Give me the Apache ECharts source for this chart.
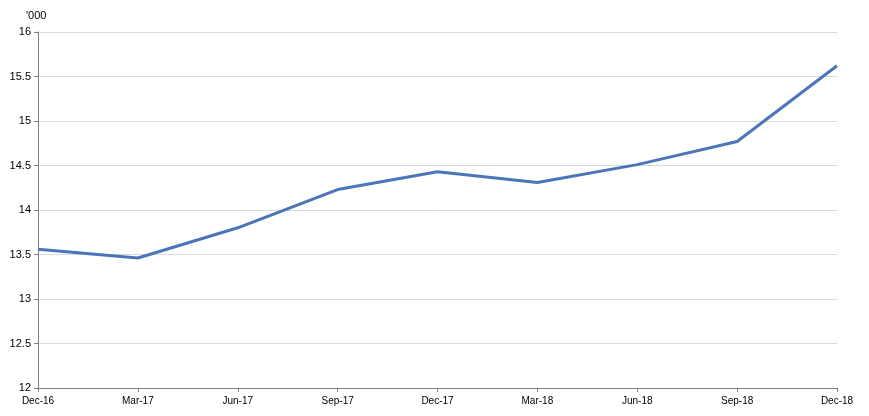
<!DOCTYPE html>
<html>
<head>
<meta charset="utf-8">
<script src="https://cdn.jsdelivr.net/npm/echarts@6/dist/echarts.min.js"></script>
<style>
  html, body { margin: 0; padding: 0; background: #fff; }
  #chart { width: 869px; height: 416px; }
</style>
</head>
<body>
<div id="chart"></div>
<script>
const categories = ['Dec-16', 'Mar-17', 'Jun-17', 'Sep-17', 'Dec-17', 'Mar-18', 'Jun-18', 'Sep-18', 'Dec-18'];
const values = [13.56, 13.46, 13.80, 14.23, 14.43, 14.31, 14.51, 14.77, 15.62];
const unitLabel = "'000";

const chart = echarts.init(document.getElementById('chart'));

chart.setOption({
    animation: false,
    backgroundColor: '#fff',
    textStyle: { fontFamily: 'Liberation Sans, Arial, sans-serif' },
    grid: { left: 38, right: 32, top: 32, bottom: 28 },
    graphic: [{
        type: 'text',
        left: 26,
        top: 10,
        style: { text: unitLabel, fontSize: 11, fill: '#000', fontFamily: 'Liberation Sans, Arial, sans-serif' }
    }],
    xAxis: {
        type: 'category',
        data: categories,
        boundaryGap: false,
        axisLine: { lineStyle: { color: '#808080', width: 1 } },
        axisTick: { show: true, alignWithLabel: true, length: 4, lineStyle: { color: '#808080' } },
        axisLabel: { color: '#000', fontSize: 10, margin: 8, interval: 0 },
        splitLine: { show: false }
    },
    yAxis: {
        type: 'value',
        min: 12,
        max: 16,
        interval: 0.5,
        axisLine: { show: true, lineStyle: { color: '#808080', width: 1 } },
        axisTick: { show: true, length: 4, lineStyle: { color: '#808080' } },
        axisLabel: { color: '#000', fontSize: 11, margin: 7 },
        splitLine: { lineStyle: { color: '#d9d9d9', width: 1 } }
    },
    series: [{
        type: 'line',
        data: values,
        showSymbol: false,
        smooth: false,
        lineStyle: { color: '#4a76b8', width: 3 }
    }]
});
</script>
</body>
</html>
